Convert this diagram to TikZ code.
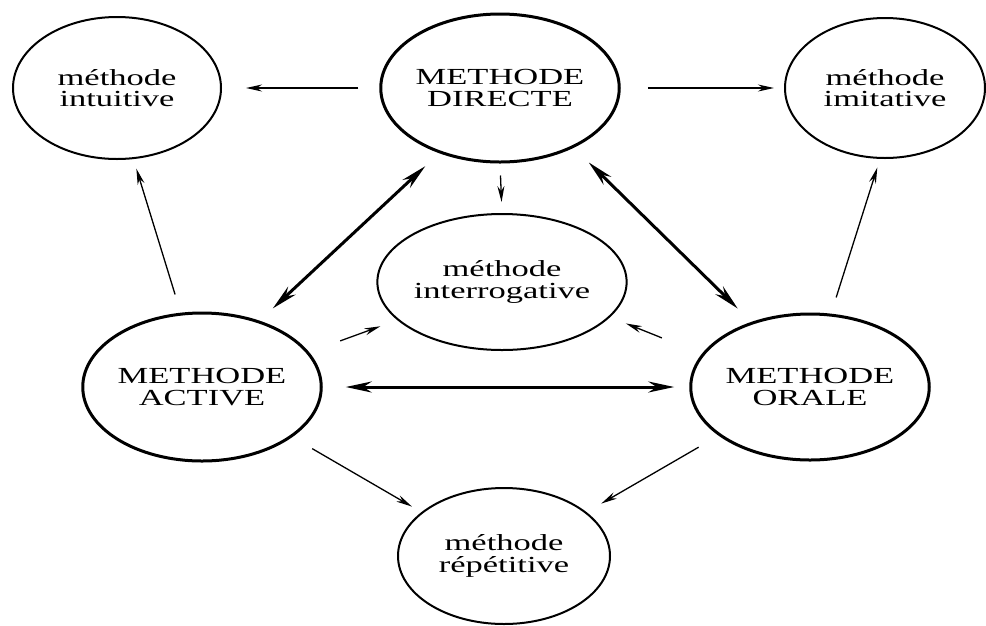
\documentclass[tikz,border=0pt]{standalone}
\usepackage{fontspec}
\setmainfont[FakeStretch=1.5]{Liberation Serif}
\usetikzlibrary{arrows.meta,shapes.geometric}

\begin{document}
\begin{tikzpicture}[x=1pt,y=-1pt,>={Stealth[length=16pt,width=7pt]}]
\tikzset{
    t1/.style={%
        draw, line width=2pt,
        ellipse, inner sep=0pt,
        align=center,
        font=\fontsize{23}{21.5}\selectfont
        },
    t2/.style={%
        t1, line width=3pt
        },
    a1/.style={->, line width=1.3pt},
    a2/.style={{Stealth[length=26pt,width=11pt]}-{Stealth[length=26pt,width=11pt]}, line width=3pt},
}
\useasboundingbox (0,0) rectangle (986,625);
%%%METHODS
\node[t1, minimum width=208pt, minimum height=142pt] (intu) at (117,88) {méthode\\intuitive};
\node[t2, minimum width=222pt, minimum height=148pt] (dir) at (500,88) {METHODE\\DIRECTE};
\node[t1, minimum width=200pt, minimum height=140pt] (imit) at (885,88) {méthode\\imitative};
\node[t1, minimum width=214pt, minimum height=136pt] (inter) at (502,282) {méthode\\interrogative};
\node[t2, minimum width=224pt, minimum height=148pt] (act) at (202,387) {METHODE\\ACTIVE};
\node[t2, minimum width=226pt, minimum height=146pt] (oral) at (810,387) {METHODE\\ORALE};
\node[t1, minimum width=212pt, minimum height=136pt] (rep) at (504,556) {méthode\\répétitive};
%%%LINKS
\draw[a1, shorten <=21pt, shorten >=24pt] (dir.west) -- (intu.east);
\draw[a1, shorten <=27pt, shorten >=10pt] (dir.east) -- (imit.west);
\draw[a1, shorten <=12pt, shorten >=11pt] (dir.south) -- (inter.north);
\draw[a2, shorten <=19pt, shorten >=18pt] (dir.227) -- (act.49);
\draw[a2, shorten <=21pt, shorten >=19pt] (dir.321) -- (oral.132);
\draw[a2, shorten <=23pt, shorten >=15pt] (act.east) -- (oral.west);
\draw[a1, shorten <=19pt, shorten >=10pt] (act.106) -- (intu.283);
\draw[a1, shorten <=17pt, shorten >=9pt] (oral.74) -- (imit.266);
\draw[a1, shorten <=33pt, shorten >=18pt] (act.18) -- (inter.200);
\draw[a1, shorten <=43pt, shorten >=17pt] (oral.163) -- (inter.342);
\draw[a1, shorten <=23pt, shorten >=11pt] (act.331) -- (rep.152);
\draw[a1, shorten <=23pt, shorten >=17pt] (oral.208) -- (rep.28);
\end{tikzpicture}
\end{document}
